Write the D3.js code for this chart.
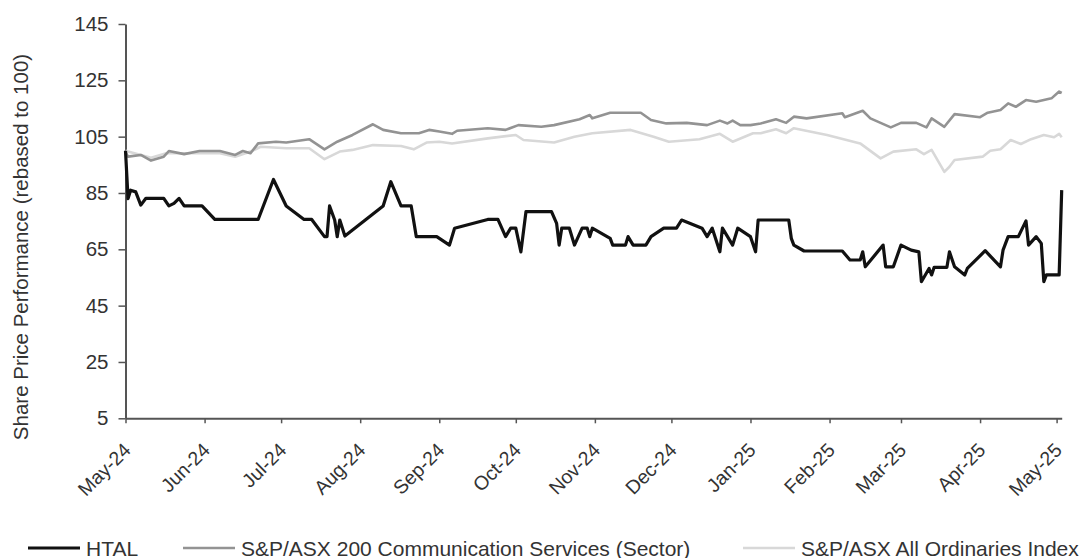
<!DOCTYPE html>
<html>
<head>
<meta charset="utf-8">
<script src="https://cdn.jsdelivr.net/npm/d3@7"></script>
<style>
  body { margin: 0; background: #fff; }
  svg { display: block; font-family: "Liberation Sans", Arial, sans-serif; }
</style>
</head>
<body>
<svg id="chart" width="1085" height="558"></svg>
<script>
// values (rebased to 100)
const htalDates = ["2024-05-01","2024-05-02","2024-05-03","2024-05-05","2024-05-07","2024-05-09","2024-05-16","2024-05-18","2024-05-20","2024-05-22","2024-05-24","2024-05-31","2024-06-05","2024-06-22","2024-06-28","2024-07-03","2024-07-10","2024-07-13","2024-07-18","2024-07-19","2024-07-20","2024-07-22","2024-07-23","2024-07-24","2024-07-26","2024-08-10","2024-08-13","2024-08-17","2024-08-21","2024-08-23","2024-08-31","2024-09-05","2024-09-07","2024-09-20","2024-09-24","2024-09-27","2024-09-29","2024-10-01","2024-10-03","2024-10-05","2024-10-15","2024-10-17","2024-10-18","2024-10-19","2024-10-22","2024-10-24","2024-10-27","2024-10-29","2024-10-30","2024-10-31","2024-11-07","2024-11-08","2024-11-13","2024-11-14","2024-11-16","2024-11-21","2024-11-23","2024-11-28","2024-12-03","2024-12-05","2024-12-13","2024-12-15","2024-12-17","2024-12-20","2024-12-21","2024-12-25","2024-12-27","2025-01-01","2025-01-03","2025-01-04","2025-01-16","2025-01-17","2025-01-18","2025-01-22","2025-02-06","2025-02-09","2025-02-13","2025-02-14","2025-02-15","2025-02-22","2025-02-23","2025-02-26","2025-03-01","2025-03-05","2025-03-08","2025-03-09","2025-03-12","2025-03-13","2025-03-14","2025-03-19","2025-03-20","2025-03-22","2025-03-26","2025-03-27","2025-04-03","2025-04-09","2025-04-10","2025-04-12","2025-04-16","2025-04-19","2025-04-20","2025-04-23","2025-04-25","2025-04-26","2025-04-27","2025-05-02","2025-05-03"];
const htalValues = [100,83,86,85.4,80.7,83.1,83.1,80.4,81.3,83.1,80.4,80.4,75.6,75.6,89.8,80.4,75.6,75.6,69.5,69.5,80.4,75.4,69.5,75.4,69.7,80.4,89,80.4,80.4,69.5,69.5,66.5,72.5,75.6,75.6,69.5,72.5,72.5,64.1,78.4,78.4,74.2,66.5,72.5,72.5,66.5,72.5,72.5,69.5,72.5,68.9,66.5,66.5,69.5,66.5,66.5,69.5,72.5,72.5,75.4,72.5,69.5,72.5,64.1,72.5,66.5,72.5,69.5,64.1,75.4,75.4,68.9,66.5,64.4,64.4,61.2,61.2,64.1,58.8,66.5,58.8,58.8,66.5,64.7,64.1,53.5,58.2,55.9,58.6,58.6,64.1,58.8,55.9,58.2,64.5,58.8,64.7,69.5,69.5,75.1,66.5,69.5,67.1,53.5,55.9,55.9,86];

const sectorDates = ["2024-05-01","2024-05-02","2024-05-07","2024-05-11","2024-05-16","2024-05-18","2024-05-24","2024-05-30","2024-06-07","2024-06-13","2024-06-16","2024-06-19","2024-06-22","2024-06-29","2024-07-03","2024-07-12","2024-07-18","2024-07-23","2024-07-29","2024-08-06","2024-08-10","2024-08-17","2024-08-24","2024-08-28","2024-09-01","2024-09-06","2024-09-08","2024-09-20","2024-09-27","2024-10-02","2024-10-11","2024-10-16","2024-10-26","2024-10-30","2024-10-31","2024-11-07","2024-11-15","2024-11-19","2024-11-23","2024-11-29","2024-12-07","2024-12-15","2024-12-20","2024-12-23","2024-12-25","2024-12-28","2025-01-01","2025-01-05","2025-01-11","2025-01-15","2025-01-18","2025-01-23","2025-02-06","2025-02-07","2025-02-14","2025-02-17","2025-02-25","2025-03-01","2025-03-07","2025-03-11","2025-03-13","2025-03-18","2025-03-22","2025-04-01","2025-04-04","2025-04-09","2025-04-12","2025-04-15","2025-04-19","2025-04-23","2025-04-29","2025-05-02","2025-05-03"];
const sectorValues = [99.5,97.9,98.5,96.5,97.9,99.9,98.8,99.9,99.9,98.5,99.9,99.1,102.6,103.2,102.9,104.1,100.5,103.2,105.6,109.4,107.4,106.2,106.2,107.4,106.8,106,107.1,108,107.4,109.1,108.5,109.1,111.2,112.7,111.5,113.5,113.5,113.5,110.9,109.7,109.9,109.1,110.7,109.7,110.7,109.1,109.1,109.7,111.2,109.9,112.1,111.5,113.3,111.9,114.2,111.5,108.3,109.9,109.9,108.3,111.5,108.5,113,111.9,113.5,114.5,116.8,115.6,118,117.4,118.6,121,120.5];

const allOrdsDates = ["2024-05-01","2024-05-02","2024-05-11","2024-05-17","2024-06-07","2024-06-13","2024-06-19","2024-06-23","2024-07-03","2024-07-12","2024-07-18","2024-07-24","2024-07-29","2024-08-06","2024-08-17","2024-08-22","2024-08-27","2024-09-01","2024-09-06","2024-09-20","2024-10-01","2024-10-04","2024-10-16","2024-10-24","2024-10-31","2024-11-15","2024-11-24","2024-11-30","2024-12-12","2024-12-20","2024-12-25","2025-01-02","2025-01-05","2025-01-11","2025-01-15","2025-01-18","2025-01-31","2025-02-13","2025-02-21","2025-02-26","2025-03-07","2025-03-10","2025-03-13","2025-03-18","2025-03-20","2025-03-22","2025-04-02","2025-04-05","2025-04-09","2025-04-13","2025-04-17","2025-04-21","2025-04-26","2025-04-30","2025-05-02","2025-05-03"];
const allOrdsValues = [100,99.7,97.5,99.1,99.1,97.9,99.7,101.4,100.9,100.9,97,99.7,100.3,102,101.7,100.5,102.9,103.2,102.6,104.4,105.6,103.8,102.9,105,106.2,107.4,105,103.2,104.1,106,103.2,106.2,106.2,107.6,106.2,108,105.6,102.6,97.3,99.7,100.5,98.8,100.3,92.5,94.3,96.7,97.9,100,100.5,103.8,102.4,104.1,105.6,104.8,106,104.8];

const seriesNames = ["HTAL", "S&P/ASX 200 Communication Services (Sector)", "S&P/ASX All Ordinaries Index"];
const yTicks = [5, 25, 45, 65, 85, 105, 125, 145];
const monthTicks = ["2024-05-01","2024-06-01","2024-07-01","2024-08-01","2024-09-01","2024-10-01","2024-11-01","2024-12-01","2025-01-01","2025-02-01","2025-03-01","2025-04-01","2025-05-01"];

const parse = d3.timeParse("%Y-%m-%d");
const colors = ["#111111", "#939393", "#d8d8d8"];
const widths = [3.2, 2.6, 2.6];

const series = [
  { name: seriesNames[0], dates: htalDates, values: htalValues },
  { name: seriesNames[1], dates: sectorDates, values: sectorValues },
  { name: seriesNames[2], dates: allOrdsDates, values: allOrdsValues }
].map((s, i) => ({
  name: s.name,
  color: colors[i],
  width: widths[i],
  points: s.dates.map((d, j) => ({ date: parse(d), value: s.values[j] }))
}));

const svg = d3.select("#chart");

const x = d3.scaleTime()
  .domain([parse("2024-05-01"), parse("2025-05-03")])
  .range([125.5, 1061.7]);

const y = d3.scaleLinear()
  .domain([5, 145])
  .range([418.3, 24]);

const textColor = "#333";
const axisColor = "#555";

// y axis
const yAxis = svg.append("g")
  .attr("transform", `translate(${x.range()[0]},0)`)
  .call(d3.axisLeft(y).tickValues(yTicks).tickSize(7).tickSizeOuter(0).tickPadding(10));
yAxis.select(".domain").attr("stroke", axisColor).attr("stroke-width", 2);
yAxis.selectAll(".tick line").attr("stroke", axisColor).attr("stroke-width", 1.5);
yAxis.selectAll(".tick text")
  .attr("fill", textColor)
  .style("font-size", "20.5px");

// x axis
const xAxis = svg.append("g")
  .attr("transform", `translate(0,${y.range()[0]})`)
  .call(d3.axisBottom(x)
    .tickValues(monthTicks.map(parse))
    .tickFormat(d3.timeFormat("%b-%y"))
    .tickSize(5)
    .tickSizeOuter(0));
xAxis.select(".domain").attr("stroke", axisColor).attr("stroke-width", 2);
xAxis.selectAll(".tick line").attr("stroke", axisColor).attr("stroke-width", 1.5);
xAxis.selectAll(".tick text")
  .attr("fill", textColor)
  .style("font-size", "19.5px")
  .style("text-anchor", "end")
  .attr("dy", null)
  .attr("y", null)
  .attr("transform", "translate(6,33) rotate(-45)");

// y axis title
svg.append("text")
  .attr("transform", `translate(28,247) rotate(-90)`)
  .attr("text-anchor", "middle")
  .attr("fill", textColor)
  .style("font-size", "20.5px")
  .text("Share Price Performance (rebased to 100)");

// lines, lightest first so HTAL sits on top
const line = d3.line()
  .x(d => x(d.date))
  .y(d => y(d.value));

svg.append("g")
  .selectAll("path")
  .data(series.slice().reverse())
  .join("path")
  .attr("fill", "none")
  .attr("stroke", d => d.color)
  .attr("stroke-width", d => d.width)
  .attr("stroke-linejoin", "round")
  .attr("d", d => line(d.points));

// legend
const legendX = [28, 183, 743];
const legend = svg.append("g")
  .selectAll("g")
  .data(series)
  .join("g")
  .attr("transform", (d, i) => `translate(${legendX[i]},548)`);

legend.append("line")
  .attr("x1", 0)
  .attr("x2", 52)
  .attr("stroke", d => d.color)
  .attr("stroke-width", d => d.width);

legend.append("text")
  .attr("x", 58)
  .attr("y", 7.5)
  .attr("fill", textColor)
  .style("font-size", "21px")
  .text(d => d.name);
</script>
</body>
</html>
